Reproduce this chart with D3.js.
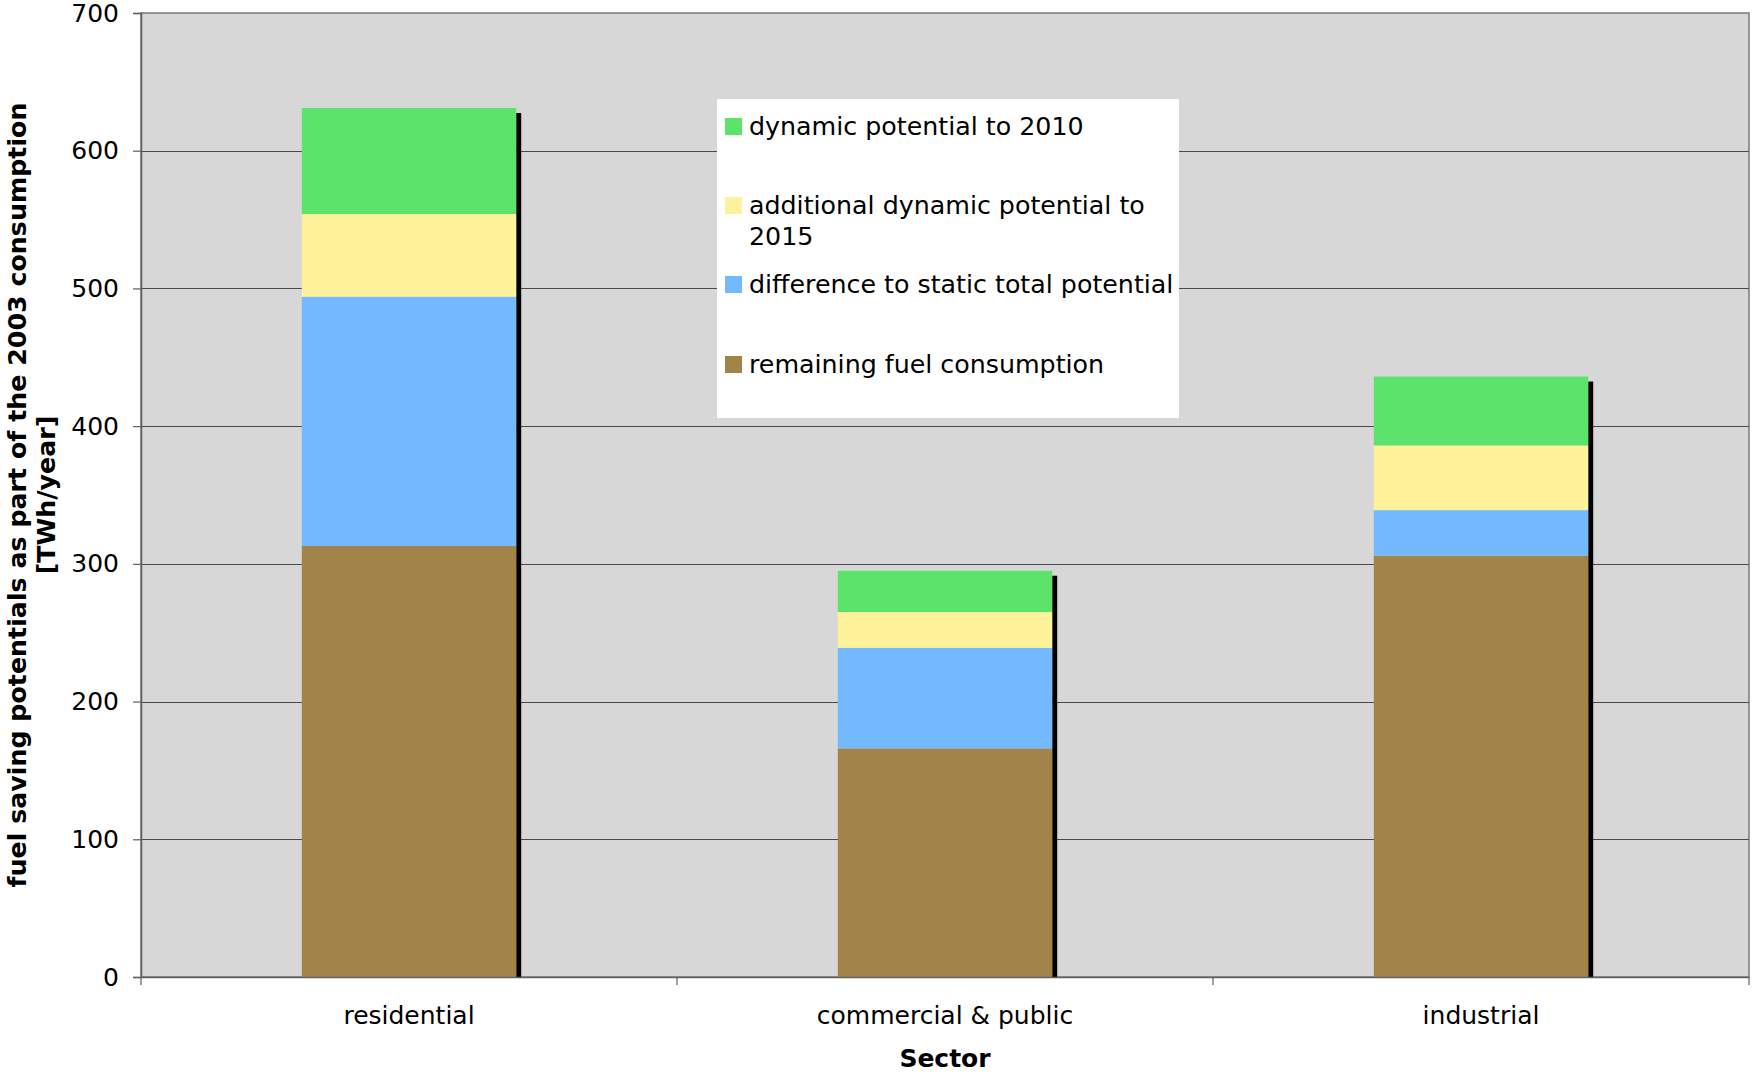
<!DOCTYPE html>
<html>
<head>
<meta charset="utf-8">
<script src="https://cdn.jsdelivr.net/npm/d3@7/dist/d3.min.js"></script>
<style>
  html, body { margin: 0; padding: 0; background: #ffffff; }
  svg { display: block; font-family: "DejaVu Sans", Verdana, sans-serif; }
</style>
</head>
<body>
<svg id="chart" width="1753" height="1072"></svg>
<script>
// Sectors on the x axis
const categories = ["residential", "commercial & public", "industrial"];

// Stacked series (TWh/year), bottom to top
const remaining  = [313, 166, 306];
const difference = [181,  73,  33];
const additional = [ 60,  26,  47];
const dynamic    = [ 77,  30,  50];

const seriesKeys = ["remaining", "difference", "additional", "dynamic"];
const seriesLabels = {
  dynamic: ["dynamic potential to 2010"],
  additional: ["additional dynamic potential to", "2015"],
  difference: ["difference to static total potential"],
  remaining: ["remaining fuel consumption"]
};
const seriesColors = {
  remaining: "#a2844a",
  difference: "#74b9ff",
  additional: "#fef39a",
  dynamic: "#5be36b"
};

const yTicks = [0, 100, 200, 300, 400, 500, 600, 700];

const rows = categories.map((c, i) => ({
  sector: c,
  remaining: remaining[i],
  difference: difference[i],
  additional: additional[i],
  dynamic: dynamic[i]
}));

const svg = d3.select("#chart");
const plot = { left: 141, right: 1749, top: 13, bottom: 977 };

const x = d3.scaleBand().domain(categories).range([plot.left, plot.right]).padding(0);
const y = d3.scaleLinear().domain([0, 700]).range([plot.bottom, plot.top]);

// plot background
svg.append("rect")
  .attr("x", plot.left).attr("y", plot.top)
  .attr("width", plot.right - plot.left).attr("height", plot.bottom - plot.top)
  .attr("fill", "#d7d7d7")
  .attr("stroke", "#7a7a7a").attr("stroke-width", 1.5);

// horizontal gridlines
svg.append("g")
  .selectAll("line")
  .data(yTicks.filter(t => t > 0 && t < 700))
  .join("line")
  .attr("x1", plot.left).attr("x2", plot.right)
  .attr("y1", d => Math.round(y(d)) + 0.5).attr("y2", d => Math.round(y(d)) + 0.5)
  .attr("stroke", "#4a4a4a").attr("stroke-width", 1.2);

// stacked bars
const stacked = d3.stack().keys(seriesKeys)(rows);
const barW = x.bandwidth() * 0.4;
const barX = d => x(d.data.sector) + (x.bandwidth() - barW) / 2;

// drop shadow on the right side of every bar
const totals = rows.map(r => seriesKeys.reduce((s, k) => s + r[k], 0));
svg.append("g")
  .selectAll("rect")
  .data(rows.map((r, i) => ({ sector: r.sector, total: totals[i] })))
  .join("rect")
  .attr("x", d => x(d.sector) + (x.bandwidth() + barW) / 2)
  .attr("y", d => y(d.total) + 5)
  .attr("width", 5)
  .attr("height", d => y(0) - y(d.total) - 5)
  .attr("fill", "#000000");

svg.append("g")
  .selectAll("g")
  .data(stacked)
  .join("g")
  .attr("fill", s => seriesColors[s.key])
  .selectAll("rect")
  .data(s => s)
  .join("rect")
  .attr("x", barX)
  .attr("y", d => y(d[1]))
  .attr("width", barW)
  .attr("height", d => y(d[0]) - y(d[1]));

// y axis
const yAxis = svg.append("g")
  .attr("transform", `translate(${plot.left},0)`)
  .call(d3.axisLeft(y).tickValues(yTicks).tickSize(8).tickPadding(14).tickFormat(d3.format("d")));
yAxis.select(".domain").attr("stroke", "#606060").attr("stroke-width", 1.5);
yAxis.selectAll(".tick line").attr("stroke", "#606060").attr("stroke-width", 1.2);
yAxis.selectAll(".tick text")
  .attr("font-family", "DejaVu Sans, Verdana, sans-serif")
  .attr("font-size", 25).attr("fill", "#000");

// x axis
const xAxis = svg.append("g")
  .attr("transform", `translate(0,${plot.bottom})`)
  .call(d3.axisBottom(x).tickSize(0).tickPadding(29));
xAxis.select(".domain").attr("stroke", "#606060").attr("stroke-width", 1.5);
xAxis.selectAll(".tick text")
  .attr("font-family", "DejaVu Sans, Verdana, sans-serif")
  .attr("font-size", 25).attr("fill", "#000");

// category separators below the x axis
svg.append("g")
  .selectAll("line")
  .data(categories.map(c => x(c)).concat([plot.right]))
  .join("line")
  .attr("x1", d => d).attr("x2", d => d)
  .attr("y1", plot.bottom).attr("y2", plot.bottom + 8)
  .attr("stroke", "#606060").attr("stroke-width", 1.2);

// axis titles
svg.append("text")
  .attr("x", (plot.left + plot.right) / 2).attr("y", 1067)
  .attr("text-anchor", "middle")
  .attr("font-size", 25).attr("font-weight", "bold")
  .text("Sector");

const yTitleLines = ["fuel saving potentials as part of the 2003 consumption", "[TWh/year]"];
const yMid = (plot.top + plot.bottom) / 2;
svg.append("g")
  .selectAll("text")
  .data(yTitleLines)
  .join("text")
  .attr("transform", (d, i) => `translate(${26 + i * 29},${yMid}) rotate(-90)`)
  .attr("text-anchor", "middle")
  .attr("font-size", 25.3).attr("font-weight", "bold")
  .text(d => d);

// legend
const legend = svg.append("g");
legend.append("rect")
  .attr("x", 717).attr("y", 99)
  .attr("width", 462).attr("height", 319)
  .attr("fill", "#ffffff");

const legendOrder = ["dynamic", "additional", "difference", "remaining"];
const legendRowY = [135, 214, 293, 373];
const entry = legend.selectAll("g.entry")
  .data(legendOrder)
  .join("g")
  .attr("class", "entry")
  .attr("transform", (d, i) => `translate(725,${legendRowY[i]})`);
entry.append("rect")
  .attr("x", 0).attr("y", -17)
  .attr("width", 17).attr("height", 17)
  .attr("fill", d => seriesColors[d]);
entry.append("text")
  .attr("font-size", 25.3).attr("fill", "#000")
  .selectAll("tspan")
  .data(d => seriesLabels[d])
  .join("tspan")
  .attr("x", 24)
  .attr("y", (d, i) => i * 31)
  .text(d => d);
</script>
</body>
</html>
